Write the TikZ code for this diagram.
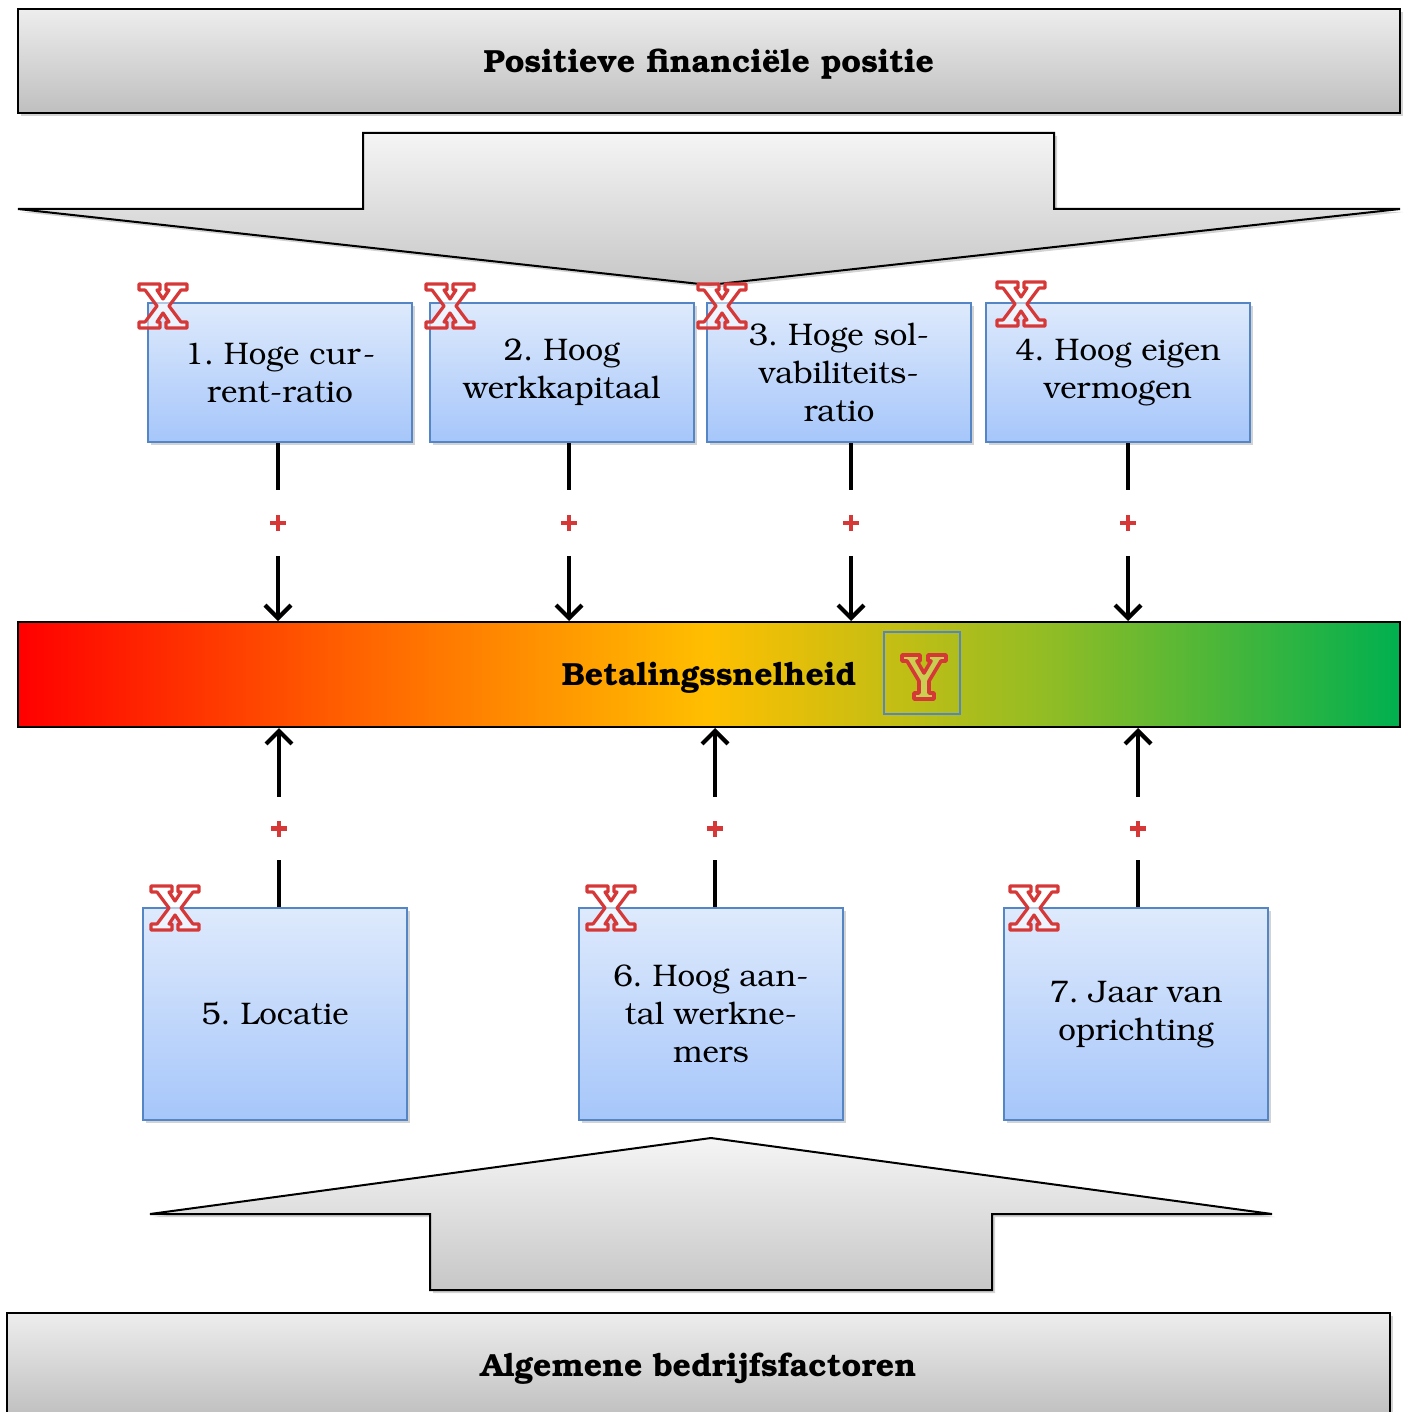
\documentclass[tikz,border=0pt]{standalone}
\usepackage[T1]{fontenc}
\usepackage{bookman}
\usepackage{xcolor}
\usetikzlibrary{arrows.meta, positioning, shadows, calc}
\frenchspacing

\definecolor{boxtop}{RGB}{222,234,252}
\definecolor{boxbot}{RGB}{166,198,250}
\definecolor{boxline}{RGB}{84,134,198}
\definecolor{markred}{RGB}{214,56,56}
\pgfdeclarehorizontalshading{barshade}{100bp}{rgb(0bp)=(1,0,0); rgb(25bp)=(1,0,0); rgb(37bp)=(1,0.38,0); rgb(50bp)=(1,0.75,0); rgb(62bp)=(0.58,0.74,0.14); rgb(75bp)=(0,0.69,0.31); rgb(100bp)=(0,0.69,0.31)}

\begin{document}
\begin{tikzpicture}[x=0.5pt, y=-0.5pt, font=\fontsize{15.6}{19}\selectfont,
  shade/.style={drop shadow={opacity=0.35, shadow xshift=1.5pt, shadow yshift=-1.5pt}},
  heading/.style={font=\fontsize{16}{18}\selectfont\bfseries, text depth=0pt},
  greybox/.style={draw, line width=1pt, top color=black!7, bottom color=black!25, minimum width=691pt, minimum height=52pt, inner sep=0pt, heading, shade},
  bigarrow/.style={draw, line width=1pt, top color=black!4, bottom color=black!22, shade},
  factor/.style={draw=boxline, line width=0.8pt, top color=boxtop, bottom color=boxbot, minimum width=132pt, align=center, inner sep=0pt, shade},
  link/.style={line width=2.1pt},
  tip/.style={-{Straight Barb[length=6.5pt, width=13pt]}},
  plusmark/.style={minimum width=10pt, minimum height=#1, inner sep=0pt,
    path picture={\draw[markred, line width=2.4pt] (path picture bounding box.center) +(-4pt,0) -- +(4pt,0) +(0,-4pt) -- +(0,4pt);}},
  xmark/.pic={\draw[markred, line width=1.6pt, fill=white, fill opacity=0.55, line join=round]
    (-24,-22) -- (-3,-22) -- (-3,-16) -- (-6,-16) -- (0,-7) -- (6,-16) -- (3,-16) -- (3,-22) -- (24,-22) -- (24,-16) -- (18,-16) -- (6,0)
    -- (18,16) -- (24,16) -- (24,22) -- (3,22) -- (3,16) -- (6,16) -- (0,7) -- (-6,16) -- (-3,16) -- (-3,22) -- (-24,22) -- (-24,16)
    -- (-18,16) -- (-6,0) -- (-18,-16) -- (-24,-16) -- cycle;},
  ymark/.pic={\draw[markred, line width=1.8pt, fill=white, fill opacity=0.25, line join=round]
    (-22,-22) -- (-4,-22) -- (-4,-16) -- (-7,-16) -- (0,-4) -- (7,-16) -- (4,-16) -- (4,-22) -- (22,-22) -- (22,-16) -- (17,-16)
    -- (5,4) -- (5,16) -- (10,16) -- (10,22) -- (-10,22) -- (-10,16) -- (-5,16) -- (-5,4) -- (-17,-16) -- (-22,-16) -- cycle;}]
  \useasboundingbox (0,0) rectangle (1406,1412);

  % Header boxes
  \node[greybox] (fin) at (709,61) {Positieve financi\"ele positie};
  \node[greybox, minimum width=691.5pt] (alg) at (698.5,1365) {Algemene bedrijfsfactoren};

  % Big arrows
  \draw[bigarrow] (363,133) -- (1054,133) -- (1054,209) -- (1400,209) -- (709,285) -- (18,209) -- (363,209) -- cycle;
  \draw[bigarrow] (430,1290) -- (992,1290) -- (992,1214) -- (1272,1214) -- (711,1138) -- (150,1214) -- (430,1214) -- cycle;

  % Payment speed bar
  \node[draw, line width=1pt, shading=barshade, minimum width=691pt, minimum height=52.5pt, inner sep=0pt, heading] (bar) at (709,674.5) {Betalingssnelheid};
  \node[draw=boxline, line width=0.8pt, minimum width=38pt, minimum height=41pt] (ybox) at (922,673) {};
  \pic at (924,677) {ymark};

  % Financial factors
  \node[factor, minimum height=69.5pt] (b1) at (280,372.5) {1. Hoge cur-\\rent-ratio};
  \node[factor, minimum height=69.5pt] (b2) at (562,372.5) {2. Hoog\\werkkapitaal};
  \node[factor, minimum height=69.5pt] (b3) at (839,372.5) {3. Hoge sol-\\vabiliteits-\\ratio};
  \node[factor, minimum height=69.5pt] (b4) at (1118,372.5) {4. Hoog eigen\\vermogen};

  % General factors
  \node[factor, minimum height=106pt] (b5) at (275,1014) {5. Locatie};
  \node[factor, minimum height=106pt] (b6) at (711,1014) {6. Hoog aan-\\tal werkne-\\mers};
  \node[factor, minimum height=106pt] (b7) at (1136,1014) {7. Jaar van\\oprichting};

  % X marks
  \foreach \x/\y in {163/306, 450/306, 722/306, 1021/304, 175/908, 611/908, 1034/908}
    \pic at (\x,\y) {xmark};

  % Links down to the bar
  \foreach \n/\x in {1/278, 2/569, 3/851, 4/1128} {
    \node[plusmark=32.5pt] (p\n) at (\x,523) {};
    \draw[link] (p\n |- b\n.south) -- (p\n.north);
    \draw[link, tip] (p\n.south) -- (p\n |- bar.north);
  }

  % Links up to the bar
  \foreach \n/\x in {5/279, 6/715, 7/1138} {
    \node[plusmark=31.5pt] (p\n) at (\x,828.5) {};
    \draw[link] (p\n |- b\n.north) -- (p\n.south);
    \draw[link, tip] (p\n.north) -- (p\n |- bar.south);
  }
\end{tikzpicture}
\end{document}
